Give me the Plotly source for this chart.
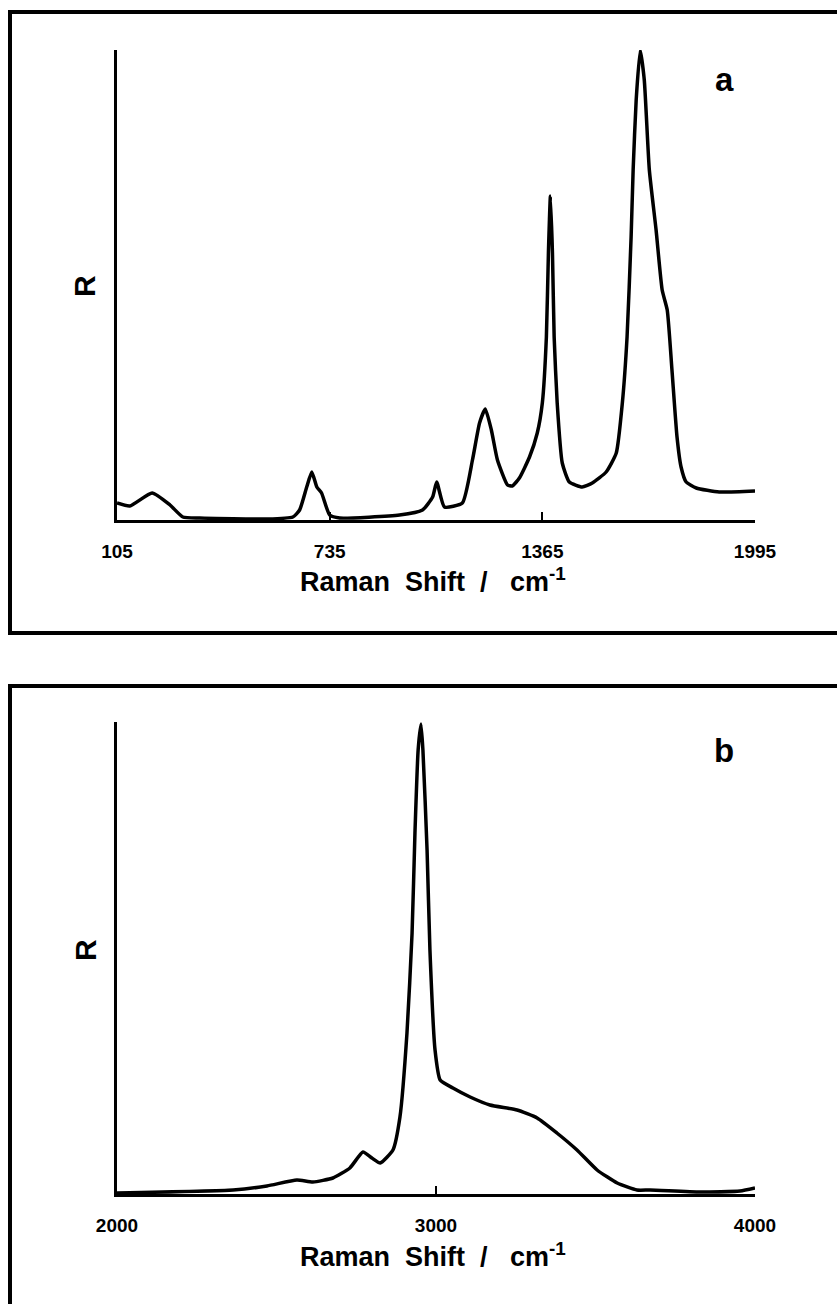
import plotly.graph_objects as go

# ---------------- data ----------------
# Panel a: low-wavenumber region
shift_a = [105, 143, 209, 262, 300, 350, 549, 626, 646, 667, 682, 697, 711, 735, 765,
           942, 1010, 1040, 1052, 1075, 1128, 1158, 1179, 1196, 1214, 1232, 1262, 1276,
           1297, 1327, 1350, 1365, 1377, 1383, 1389, 1395, 1400, 1409, 1424, 1445, 1483,
           1513, 1554, 1584, 1602, 1616, 1628, 1634, 1643, 1655, 1667, 1682, 1702, 1720,
           1735, 1749, 1764, 1776, 1791, 1821, 1889, 1995]
r_a = [17, 14, 27, 15, 3, 2, 1, 3, 10, 33, 48, 33, 27, 5, 2,
       5, 10, 23, 38, 13, 17, 60, 97, 111, 90, 60, 35, 34,
       42, 63, 87, 117, 183, 267, 324, 267, 183, 117, 57, 38, 33,
       37, 48, 67, 117, 183, 283, 350, 420, 470, 440, 350, 290, 230,
       210, 150, 83, 53, 38, 32, 28, 29]

# Panel b: high-wavenumber region
shift_b = [2000, 2364, 2470, 2564, 2614, 2677, 2730, 2771, 2799, 2825, 2865, 2887, 2909,
           2925, 2934, 2944, 2953, 2959, 2972, 2981, 2997, 3013, 3053, 3107, 3169, 3254,
           3317, 3379, 3442, 3505, 3568, 3630, 3671, 3828, 3953, 4000]
r_b = [1, 4, 8, 14, 12, 16, 26, 42, 36, 31, 44, 77, 161,
       261, 361, 444, 470, 444, 344, 244, 144, 114, 106, 97, 89, 84,
       76, 61, 44, 24, 11, 4, 4, 2, 3, 6]

ticks_a = [105, 735, 1365, 1995]
ticks_b = [2000, 3000, 4000]
NB = "\u00a0"
x_title = "Raman" + NB * 2 + "Shift" + NB * 2 + "/" + NB * 3 + "cm<sup>-1</sup>"
y_title = "R"
panel_labels = ["a", "b"]

# ---------------- layout helpers ----------------
W, H = 837, 1304
def px(x):
    return x / W
def py(y):
    return 1 - y / H

FONT = "Liberation Sans, Arial, sans-serif"

fig = go.Figure()
fig.add_trace(go.Scatter(x=shift_a, y=r_a, mode="lines",
                         line=dict(color="black", width=3.5, shape="spline", smoothing=0.5),
                         xaxis="x", yaxis="y", showlegend=False, hoverinfo="skip"))
fig.add_trace(go.Scatter(x=shift_b, y=r_b, mode="lines",
                         line=dict(color="black", width=3.5, shape="spline", smoothing=0.5),
                         xaxis="x2", yaxis="y2", showlegend=False, hoverinfo="skip"))

xcommon = dict(showline=True, linewidth=3, linecolor="black", showgrid=False,
               zeroline=False, ticks="inside", ticklen=8, tickwidth=2, tickcolor="black",
               tickfont=dict(family=FONT, size=19, color="black", weight="bold"),
               ticklabelstandoff=12, automargin=False)
ycommon = dict(showline=True, linewidth=3, linecolor="black", showgrid=False,
               zeroline=False, showticklabels=False, ticks="", automargin=False)

fig.update_layout(
    template="none",
    width=W, height=H,
    margin=dict(l=0, r=0, t=0, b=0, pad=0, autoexpand=False),
    paper_bgcolor="white", plot_bgcolor="white",
    showlegend=False,
    xaxis=dict(domain=[px(117), px(755)], range=[105, 1995], tickvals=ticks_a,
               ticktext=[str(t) for t in ticks_a], anchor="y", **xcommon),
    yaxis=dict(domain=[py(520), py(50)], range=[0, 470], anchor="x", **ycommon),
    xaxis2=dict(domain=[px(117), px(755)], range=[2000, 4000], tickvals=ticks_b,
                ticktext=[str(t) for t in ticks_b], anchor="y2", **xcommon),
    yaxis2=dict(domain=[py(1194), py(722)], range=[0, 472], anchor="x2", **ycommon),
)

# frames around each panel
fig.add_shape(type="rect", xref="paper", yref="paper",
              x0=px(10), x1=px(860), y0=py(633), y1=py(12),
              line=dict(color="black", width=4), fillcolor="rgba(0,0,0,0)")
fig.add_shape(type="rect", xref="paper", yref="paper",
              x0=px(10), x1=px(860), y0=py(1330), y1=py(686),
              line=dict(color="black", width=4), fillcolor="rgba(0,0,0,0)")

# axis titles and panel labels
for (title_y, r_y, lab_y, lab) in [(580, 286, 79, panel_labels[0]),
                                    (1255, 950, 750, panel_labels[1])]:
    fig.add_annotation(text=x_title, xref="paper", yref="paper",
                       x=px(433), y=py(title_y), showarrow=False,
                       xanchor="center", yanchor="middle",
                       font=dict(family=FONT, size=27, color="black", weight="bold"))
    fig.add_annotation(text=y_title, xref="paper", yref="paper",
                       x=px(85), y=py(r_y), showarrow=False, textangle=-90,
                       xanchor="center", yanchor="middle",
                       font=dict(family=FONT, size=30, color="black", weight="bold"))
    fig.add_annotation(text=lab, xref="paper", yref="paper",
                       x=px(724), y=py(lab_y), showarrow=False,
                       xanchor="center", yanchor="middle",
                       font=dict(family=FONT, size=33, color="black", weight="bold"))

fig.write_html("out.html")
